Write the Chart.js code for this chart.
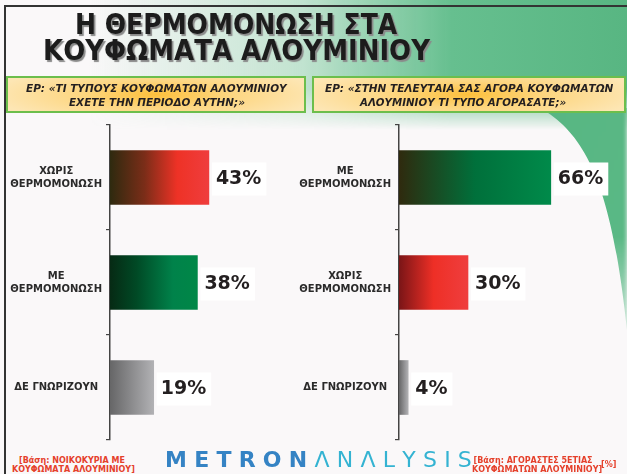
<!DOCTYPE html>
<html>
<head>
<meta charset="utf-8">
<script src="https://cdn.jsdelivr.net/npm/chart.js@4.4.1/dist/chart.umd.min.js"></script>
<style>
  html, body { margin: 0; padding: 0; }
  body { width: 627px; height: 474px; position: relative; overflow: hidden; background: #faf8f9; font-family: "DejaVu Sans", sans-serif; }
  .abs { position: absolute; }
  #greenTop { left: 0; top: 0; width: 627px; height: 130px;
    background: linear-gradient(to right, rgba(110,195,145,0) 14%, rgba(125,202,158,0.45) 48%, #66bf8f 72%, #58b682 100%);
    -webkit-mask-image: linear-gradient(to bottom, #000 68%, transparent 100%);
    mask-image: linear-gradient(to bottom, #000 68%, transparent 100%); }
  #swirl { left: 0; top: 0; width: 627px; height: 474px;
    background: linear-gradient(115deg, #e4f3e8 0%, #8fd0aa 10%, #52b27e 35%, #5cba87 100%);
    clip-path: path('M 540 108 C 588 135, 612 190, 627 330 L 627 108 Z');
    -webkit-mask-image: linear-gradient(to bottom, #000 50%, rgba(0,0,0,0.35) 70%);
    mask-image: linear-gradient(to bottom, #000 50%, rgba(0,0,0,0.35) 70%);
    filter: blur(2px); }
  #frameL { left: 4px; top: 5px; width: 1.5px; height: 469px; background: #333; }
  #frameT { left: 4px; top: 5px; width: 623px; height: 1.5px; background: #333; }
  .title { left: 0; white-space: nowrap; font-family: "DejaVu Sans", sans-serif; font-weight: bold; font-size: 29px; line-height: 29px;
    color: #1c1c1c; text-shadow: 2px 2px 1px #8a8a8a; transform-origin: 0 0; }
  .qbox { top: 76px; height: 33px; border: 2px solid #6cbe4c;
    background: radial-gradient(ellipse 55% 90% at 50% 50%, #fdc03c 0, #fdd680 45%, #fde6b4 100%); }
  .qtxt { white-space: nowrap; font-style: italic; font-weight: bold; font-size: 11px; line-height: 14px; color: #231f20; transform-origin: 0 0; }
  .foot { color: #e5402b; font-weight: bold; font-size: 8px; line-height: 9px; text-align: center; white-space: nowrap; }
  #logo { left: 165px; top: 448px; width: 307px; display: flex; justify-content: space-between; font-size: 22px; line-height: 24px; filter: blur(0.5px); }
  #logo span.m { color: #3583c4; font-weight: bold; }
  #logo span.a { color: #34b3d2; }
  canvas { position: absolute; }
</style>
</head>
<body>
<div id="greenTop" class="abs"></div>
<div id="swirl" class="abs"></div>
<div id="frameL" class="abs"></div>
<div id="frameT" class="abs"></div>

<div id="t1" class="abs title" style="top:10px">Η ΘΕΡΜΟΜΟΝΩΣΗ ΣΤΑ</div>
<div id="t2" class="abs title" style="top:36px">ΚΟΥΦΩΜΑΤΑ ΑΛΟΥΜΙΝΙΟΥ</div>

<div class="abs qbox" style="left:6px;width:296px"></div>
<div class="abs qbox" style="left:312px;width:310px"></div>
<div id="q1" class="abs qtxt" style="top:82px">ΕΡ: «ΤΙ ΤΥΠΟΥΣ ΚΟΥΦΩΜΑΤΩΝ ΑΛΟΥΜΙΝΙΟΥ</div>
<div id="q2" class="abs qtxt" style="top:96px">ΕΧΕΤΕ ΤΗΝ ΠΕΡΙΟΔΟ ΑΥΤΗΝ;»</div>
<div id="q3" class="abs qtxt" style="top:82px">ΕΡ: «ΣΤΗΝ ΤΕΛΕΥΤΑΙΑ ΣΑΣ ΑΓΟΡΑ ΚΟΥΦΩΜΑΤΩΝ</div>
<div id="q4" class="abs qtxt" style="top:96px">ΑΛΟΥΜΙΝΙΟΥ ΤΙ ΤΥΠΟ ΑΓΟΡΑΣΑΤΕ;»</div>

<canvas id="leftChart" width="320" height="325" style="left:0;top:120px"></canvas>
<canvas id="rightChart" width="337" height="325" style="left:290px;top:120px"></canvas>

<div class="abs foot" style="left:12px;top:456px;width:120px">[Βάση: ΝΟΙΚΟΚΥΡΙΑ ΜΕ<br>ΚΟΥΦΩΜΑΤΑ ΑΛΟΥΜΙΝΙΟΥ]</div>
<div class="abs foot" style="left:472px;top:456px;width:122px">[Βάση: ΑΓΟΡΑΣΤΕΣ 5ΕΤΙΑΣ<br>ΚΟΥΦΩΜΑΤΩΝ ΑΛΟΥΜΙΝΙΟΥ]</div>
<div class="abs foot" style="left:601px;top:460px;">[%]</div>
<div id="logo" class="abs">
  <span class="m">M</span><span class="m">E</span><span class="m">T</span><span class="m">R</span><span class="m">O</span><span class="m">N</span>
  <span class="a">Λ</span><span class="a">N</span><span class="a">Λ</span><span class="a">L</span><span class="a">Y</span><span class="a">S</span><span class="a">I</span><span class="a">S</span>
</div>

<script>
(function () {
  "use strict";

  // data
  const leftLabels  = [['ΧΩΡΙΣ', 'ΘΕΡΜΟΜΟΝΩΣΗ'], ['ΜΕ', 'ΘΕΡΜΟΜΟΝΩΣΗ'], 'ΔΕ ΓΝΩΡΙΖΟΥΝ'];
  const leftValues  = [43, 38, 19];
  const rightLabels = [['ΜΕ', 'ΘΕΡΜΟΜΟΝΩΣΗ'], ['ΧΩΡΙΣ', 'ΘΕΡΜΟΜΟΝΩΣΗ'], 'ΔΕ ΓΝΩΡΙΖΟΥΝ'];
  const rightValues = [66, 30, 4];
  const axisMax = 90;

  // gradient stops per bar
  const redDark   = [[0, '#2e2a0f'], [0.35, '#7b2d18'], [0.68, '#ee3226'], [1, '#ef3d3d']];
  const greenDark = [[0, '#062a14'], [0.3, '#004925'], [0.72, '#00824a'], [1, '#008747']];
  const grey      = [[0, '#666667'], [1, '#b1b1b4']];
  const greenOl   = [[0, '#2f2a0e'], [0.5, '#00703b'], [1, '#008a4a']];
  const redBr     = [[0, '#7a1517'], [0.5, '#ee2f26'], [1, '#ef3e3e']];

  // stretch the header texts to the widths
  function fit(id, left, width) {
    const el = document.getElementById(id);
    el.style.left = left + 'px';
    el.style.transform = 'scaleX(' + (width / el.scrollWidth) + ')';
  }
  fit('t1', 75, 322);
  fit('t2', 43, 387);
  fit('q1', 26, 261);
  fit('q2', 69, 176);
  fit('q3', 325, 288);
  fit('q4', 360, 206);

  function barFill(stopsList) {
    return function (c) {
      const stops = stopsList[c.dataIndex];
      const chart = c.chart;
      if (!chart.chartArea || !chart.scales.x) return stops[stops.length - 1][1];
      const xs = chart.scales.x;
      const g = chart.ctx.createLinearGradient(xs.getPixelForValue(0), 0, xs.getPixelForValue(c.raw), 0);
      stops.forEach(function (s) { g.addColorStop(s[0], s[1]); });
      return g;
    };
  }

  // white boxed value labels at the bar ends
  const valueLabels = {
    id: 'valueLabels',
    afterDatasetsDraw(chart) {
      const ctx = chart.ctx;
      const meta = chart.getDatasetMeta(0);
      ctx.save();
      ctx.font = 'bold 19px "DejaVu Sans"';
      ctx.textBaseline = 'middle';
      meta.data.forEach(function (bar, i) {
        const txt = chart.data.datasets[0].data[i] + '%';
        const w = ctx.measureText(txt).width;
        const x = bar.x + 3;
        ctx.fillStyle = '#ffffff';
        ctx.fillRect(x, bar.y - 15, w + 9, 33);
        ctx.fillStyle = '#231f20';
        ctx.fillText(txt, x + 4, bar.y + 2);
      });
      ctx.restore();
    }
  };

  function makeChart(id, labels, values, stops, axisWidth, padRight) {
    return new Chart(document.getElementById(id), {
      type: 'bar',
      data: {
        labels: labels,
        datasets: [{
          data: values,
          backgroundColor: barFill(stops),
          barThickness: 54,
          borderWidth: 0
        }]
      },
      options: {
        indexAxis: 'y',
        responsive: false,
        animation: false,
        layout: { padding: { top: 5, bottom: 5, left: 0, right: padRight } },
        plugins: { legend: { display: false }, tooltip: { enabled: false } },
        scales: {
          x: { display: false, min: 0, max: axisMax },
          y: {
            grid: { drawOnChartArea: false, drawTicks: true, tickLength: 4, color: '#444', offset: true, lineWidth: 1.2 },
            border: { color: '#444', width: 1.5 },
            ticks: {
              crossAlign: 'center',
              padding: 4,
              color: '#2a2a2a',
              font: { family: 'DejaVu Sans', weight: 'bold', size: 10, lineHeight: 1.3 }
            },
            afterFit: function (s) {
              s.width = axisWidth;
              s.paddingTop = 0;
              s.paddingBottom = 0;
            }
          }
        }
      },
      plugins: [valueLabels]
    });
  }

  // left: axis at x=110, right: axis at x=399 (canvas starts at 290)
  makeChart('leftChart', leftLabels, leftValues, [redDark, greenDark, grey], 110, 320 - 110 - 207);
  makeChart('rightChart', rightLabels, rightValues, [greenOl, redBr, grey], 109, 337 - 109 - 207);
})();
</script>
</body>
</html>
